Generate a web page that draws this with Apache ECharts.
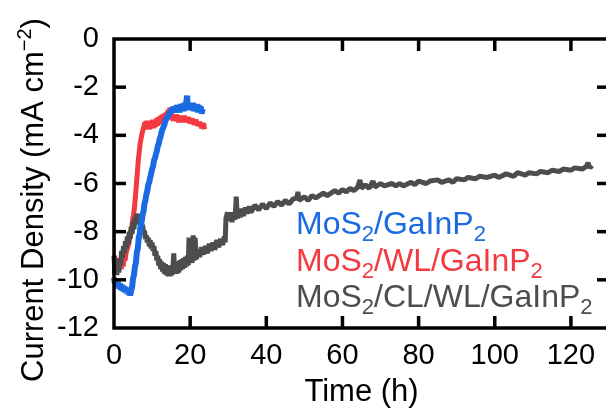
<!DOCTYPE html>
<html>
<head>
<meta charset="utf-8">
<script src="https://cdn.jsdelivr.net/npm/echarts@6/dist/echarts.min.js"></script>
<style>html,body{margin:0;padding:0;background:#fff}#c{width:606px;height:408px}</style>
</head>
<body>
<div id="c"></div>
<script>
// Data: [time (h), current density (mA cm^-2)]
var seriesNames = ['MoS2/GaInP2', 'MoS2/WL/GaInP2', 'MoS2/CL/WL/GaInP2'];
var xTicks = [0, 20, 40, 60, 80, 100, 120];
var yTicks = [0, -2, -4, -6, -8, -10, -12];

var blueData = [[0,-9.9],[0.25,-10.15],[0.5,-10.0],[0.75,-10.3],[1,-10.1],[1.25,-10.35],[1.5,-10.15],[1.75,-10.4],[2,-10.2],[2.25,-10.45],[2.5,-10.25],[2.75,-10.5],[3,-10.3],[3.25,-10.55],[3.5,-10.35],[3.75,-10.6],[4,-10.4],[4.25,-10.65],[4.5,-10.45],[4.75,-10.3],[5,-9.95],[5.25,-9.8],[5.5,-9.45],[5.75,-9.3],[6,-8.85],[6.25,-8.7],[6.5,-8.25],[6.75,-8.1],[7,-7.75],[7.25,-7.6],[7.5,-7.3],[7.75,-7.15],[8,-6.85],[8.25,-6.7],[8.5,-6.45],[8.75,-6.3],[9,-6.05],[9.25,-5.95],[9.5,-5.75],[9.75,-5.6],[10,-5.4],[10.25,-5.3],[10.5,-5.05],[10.75,-4.95],[11,-4.8],[11.25,-4.65],[11.5,-4.45],[11.75,-4.35],[12,-4.15],[12.25,-4.05],[12.5,-3.85],[12.75,-3.8],[13,-3.65],[13.25,-3.55],[13.5,-3.4],[13.75,-3.35],[14,-3.25],[14.25,-3.2],[14.5,-3.1],[14.75,-3.1],[15,-3.0],[15.25,-3.05],[15.5,-2.85],[15.75,-3.05],[16,-2.8],[16.25,-3.0],[16.5,-2.75],[16.75,-3.0],[17,-2.8],[17.25,-3.05],[17.5,-2.7],[17.75,-2.95],[18,-2.7],[18.25,-3.0],[18.5,-2.65],[18.75,-2.95],[19,-2.6],[19.2,-2.35],[19.4,-2.9],[19.75,-2.65],[20,-2.95],[20.25,-2.7],[20.5,-2.95],[20.75,-2.65],[21,-3.0],[21.25,-2.7],[21.5,-3.0],[21.75,-2.7],[22,-3.05],[22.25,-2.75],[22.5,-3.05],[22.75,-2.8],[23,-3.1],[23.3,-2.9]];

var redStart = [[0,-0.6],[0.15,-9.0]];
var redData = [[0.15,-9.0],[0.4,-9.3],[0.65,-9.1],[0.9,-9.5],[1.15,-9.25],[1.4,-9.6],[1.65,-9.3],[1.9,-9.55],[2.15,-9.25],[2.4,-9.45],[2.65,-9.1],[2.9,-9.2],[3.15,-8.9],[3.4,-8.85],[3.65,-8.6],[3.9,-8.5],[4.15,-8.25],[4.4,-8.0],[4.65,-7.85],[4.9,-7.5],[5.15,-7.3],[5.4,-6.95],[5.65,-6.5],[5.9,-6.0],[6.15,-5.5],[6.4,-5.0],[6.65,-4.65],[6.9,-4.3],[7.15,-4.1],[7.4,-3.9],[7.65,-3.75],[7.9,-3.6],[8.15,-3.45],[8.4,-3.7],[8.65,-3.4],[8.9,-3.75],[9.15,-3.45],[9.4,-3.75],[9.65,-3.4],[9.9,-3.7],[10.15,-3.35],[10.4,-3.7],[10.65,-3.35],[10.9,-3.65],[11.15,-3.3],[11.4,-3.6],[11.65,-3.25],[11.9,-3.55],[12.15,-3.2],[12.4,-3.5],[12.65,-3.15],[12.9,-3.45],[13.15,-3.1],[13.4,-3.4],[13.65,-3.05],[13.9,-3.35],[14.15,-2.95],[14.4,-3.3],[14.65,-2.85],[14.9,-3.3],[15.15,-3.1],[15.5,-3.4],[15.75,-3.15],[16,-3.4],[16.5,-3.15],[17,-3.45],[17.5,-3.2],[18,-3.45],[18.5,-3.2],[19,-3.45],[19.5,-3.25],[20,-3.5],[20.5,-3.3],[21,-3.55],[21.5,-3.35],[22,-3.6],[22.5,-3.45],[23,-3.7],[23.5,-3.5],[23.8,-3.75]];

var grayData = [[0,-9.0],[0.25,-9.8],[0.5,-9.3],[0.75,-9.8],[1,-9.4],[1.25,-9.7],[1.5,-9.1],[1.75,-9.4],[2,-8.8],[2.25,-9.1],[2.5,-8.6],[2.75,-8.9],[3,-8.4],[3.25,-8.7],[3.5,-8.2],[3.75,-8.5],[4,-8.0],[4.25,-8.3],[4.5,-7.8],[4.75,-8.1],[5,-7.6],[5.25,-7.9],[5.5,-7.4],[5.75,-7.7],[6,-7.25],[6.25,-7.6],[6.5,-7.3],[6.75,-7.65],[7,-7.45],[7.25,-7.8],[7.5,-7.7],[7.75,-8.05],[8,-7.95],[8.25,-8.3],[8.5,-8.15],[8.75,-8.45],[9,-8.25],[9.25,-8.6],[9.5,-8.35],[9.75,-8.7],[10,-8.45],[10.25,-8.8],[10.5,-8.6],[10.75,-9.0],[11,-8.8],[11.25,-9.2],[11.5,-9.0],[11.75,-9.4],[12,-9.15],[12.25,-9.55],[12.5,-9.25],[12.75,-9.65],[13,-9.3],[13.25,-9.75],[13.5,-9.35],[13.75,-9.8],[14,-9.4],[14.25,-9.85],[14.5,-9.4],[14.75,-9.85],[15,-9.45],[15.25,-9.8],[15.5,-9.4],[15.7,-8.9],[15.9,-9.7],[16.25,-9.3],[16.5,-9.75],[16.75,-9.25],[17,-9.7],[17.25,-9.2],[17.5,-9.6],[17.75,-9.15],[18,-9.55],[18.25,-9.1],[18.5,-9.5],[18.75,-9.05],[19,-9.45],[19.25,-9.0],[19.5,-9.4],[19.7,-8.25],[19.9,-9.3],[20.25,-8.9],[20.5,-9.3],[20.8,-8.15],[21,-9.2],[21.3,-8.25],[21.6,-9.15],[22,-8.75],[22.5,-9.05],[23,-8.65],[23.5,-8.95],[24,-8.6],[24.5,-8.9],[25,-8.5],[25.5,-8.8],[26,-8.45],[26.5,-8.75],[27,-8.35],[27.5,-8.65],[28,-8.3],[28.5,-8.55],[29,-8.2],[29.2,-8.45],[29.4,-7.45],[29.8,-7.2],[30.2,-7.55],[30.6,-7.2],[31,-7.6],[31.4,-7.25],[31.8,-7.5],[32.1,-6.55],[32.4,-7.45],[32.8,-7.1],[33.2,-7.4],[33.6,-7.05],[34,-7.35],[34.5,-7.0],[35,-7.25],[35.5,-6.95],[36,-7.2],[37,-6.9],[38,-7.1],[39,-6.85],[40,-7.05],[41,-6.8],[42,-6.95],[43,-6.75],[44,-6.9],[45,-6.7],[46,-6.85],[47,-6.65],[48,-6.6],[48.3,-6.35],[48.6,-6.7],[50,-6.55],[51,-6.7],[52,-6.5],[53,-6.6],[55,-6.4],[56,-6.5],[58,-6.3],[59,-6.4],[60,-6.25],[61,-6.35],[62,-6.2],[63,-6.3],[64,-6.15],[64.6,-5.85],[65,-6.2],[66,-6.05],[67,-6.2],[68,-5.9],[68.5,-6.15],[70,-6.0],[71,-6.1],[73,-6.0],[74,-6.1],[75,-6.0],[76,-6.1],[78,-5.95],[79,-6.05],[80,-5.9],[82,-6.0],[83,-5.9],[85,-5.85],[86,-5.95],[88,-5.85],[89,-5.95],[90,-5.8],[92,-5.85],[93,-5.75],[95,-5.8],[96,-5.7],[98,-5.75],[100,-5.65],[101,-5.75],[103,-5.6],[105,-5.7],[106,-5.55],[108,-5.65],[109,-5.55],[111,-5.6],[112,-5.5],[114,-5.55],[115,-5.45],[117,-5.5],[118,-5.4],[120,-5.45],[121,-5.35],[123,-5.4],[124,-5.3],[124.5,-5.15],[125,-5.35],[125.5,-5.25]];

var BLUE = '#1a6be3', RED = '#f23a40', GRAY = '#4d4d4d';
var FONT = 'Liberation Sans, Arial, sans-serif';
var X_MIN = 0, X_MAX = 130, Y_MIN = -12, Y_MAX = 0;
var TICK = 12, FRAME_W = 3.5;

function sub(text) {
  return text.split(/(2)/).map(function (p) {
    return p === '2' ? '{S|2}' : (p ? '{M|' + p + '}' : '');
  }).join('');
}
function richFor(color) {
  return {
    M: {fontSize: 32, fontFamily: FONT, fill: color, lineHeight: 30, verticalAlign: 'top'},
    S: {fontSize: 22, fontFamily: FONT, fill: color, lineHeight: 22, verticalAlign: 'top', padding: [15, 0, 0, 0]}
  };
}

// Frame and inward ticks, placed through the chart's own scales (api.coord)
function renderFrame(params, api) {
  var tl = api.coord([X_MIN, Y_MAX]);
  var br = api.coord([X_MAX, Y_MIN]);
  var st = {stroke: '#000', lineWidth: FRAME_W, fill: null};
  var children = [{type: 'rect', shape: {x: tl[0], y: tl[1], width: br[0] - tl[0], height: br[1] - tl[1]}, style: {stroke: '#000', lineWidth: FRAME_W, fill: 'none'}}];
  xTicks.forEach(function (v) {
    if (v === X_MIN || v === X_MAX) return;
    var b = api.coord([v, Y_MIN]), t = api.coord([v, Y_MAX]);
    children.push({type: 'line', shape: {x1: b[0], y1: b[1], x2: b[0], y2: b[1] - TICK}, style: st});
    children.push({type: 'line', shape: {x1: t[0], y1: t[1], x2: t[0], y2: t[1] + TICK}, style: st});
  });
  yTicks.forEach(function (v) {
    if (v === Y_MIN || v === Y_MAX) return;
    var l = api.coord([X_MIN, v]), r = api.coord([X_MAX, v]);
    children.push({type: 'line', shape: {x1: l[0], y1: l[1], x2: l[0] + TICK, y2: l[1]}, style: st});
    children.push({type: 'line', shape: {x1: r[0], y1: r[1], x2: r[0] - TICK, y2: r[1]}, style: st});
  });
  return {type: 'group', children: children};
}

var chart = echarts.init(document.getElementById('c'));

chart.setOption({
  animation: false,
  grid: {left: 114, top: 39, width: 495, height: 289, outerBoundsMode: 'none'},
  xAxis: {
    type: 'value', min: X_MIN, max: X_MAX, interval: 20, position: 'bottom',
    axisLine: {show: false, onZero: false}, axisTick: {show: false}, splitLine: {show: false},
    axisLabel: {fontSize: 29, fontFamily: FONT, color: '#000', margin: 13, showMaxLabel: false},
    name: 'Time (h)', nameLocation: 'middle', nameGap: 49,
    nameTextStyle: {fontSize: 31, fontFamily: FONT, color: '#000'}
  },
  yAxis: {
    type: 'value', min: Y_MIN, max: Y_MAX, interval: 2, position: 'left',
    axisLine: {show: false, onZero: false}, axisTick: {show: false}, splitLine: {show: false},
    axisLabel: {fontSize: 29, fontFamily: FONT, color: '#000', margin: 15}
  },
  series: [
    {name: seriesNames[1], type: 'line', data: redStart, showSymbol: false, lineStyle: {color: RED, width: 2}},
    {name: seriesNames[1], type: 'line', data: redData, showSymbol: false, lineStyle: {color: RED, width: 5}},
    {name: seriesNames[2], type: 'line', data: grayData, showSymbol: false, lineStyle: {color: GRAY, width: 5}},
    {name: seriesNames[0], type: 'line', data: blueData, showSymbol: false, lineStyle: {color: BLUE, width: 6}},
    {name: 'frame', type: 'custom', data: [[X_MIN, Y_MIN]], renderItem: renderFrame, clip: false, silent: true, z: 10}
  ],
  graphic: [
    {type: 'text', x: 30, y: 200, rotation: Math.PI / 2,
      style: {text: '{M|Current Density (mA cm}{P|\u22122}{M|)}', align: 'center', verticalAlign: 'middle',
        rich: {
          M: {fontSize: 31, fontFamily: FONT, fill: '#000', lineHeight: 30, verticalAlign: 'top', padding: [4, 0, 0, 0]},
          P: {fontSize: 20, fontFamily: FONT, fill: '#000', lineHeight: 20, verticalAlign: 'top'}
        }}},
    {type: 'text', x: 296, y: 209, style: {text: sub(seriesNames[0]), rich: richFor(BLUE)}},
    {type: 'text', x: 296, y: 246, style: {text: sub(seriesNames[1]), rich: richFor(RED)}},
    {type: 'text', x: 296, y: 282, style: {text: sub(seriesNames[2]), rich: richFor(GRAY)}}
  ]
});
</script>
</body>
</html>
